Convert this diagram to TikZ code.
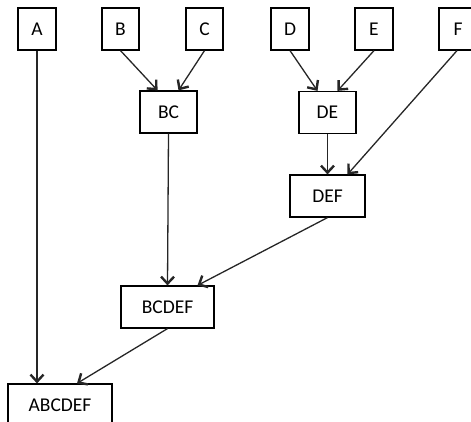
\documentclass[tikz,border=0pt]{standalone}
\usepackage{fontspec}
\setmainfont{Carlito}
\usetikzlibrary{arrows.meta}
\begin{document}
\begin{tikzpicture}[x=1pt,y=-1pt,
  box/.style={draw=black,line width=1.2pt,fill=white,rectangle,inner sep=0pt,
    minimum height=42pt,font=\fontsize{19.5}{22}\selectfont},
  arr/.style={draw=black!85,line width=1.3pt,
    -{Straight Barb[length=7pt,width=13pt,line width=2.4pt]}}]
\useasboundingbox (0,0) rectangle (471,422);
\clip (0,0) rectangle (471,422);
\node[box,minimum width=38pt] (A) at (37,29) {A};
\node[box,minimum width=37pt] (B) at (120.5,29) {B};
\node[box,minimum width=37pt] (C) at (204.5,29) {C};
\node[box,minimum width=38pt] (D) at (290,29) {D};
\node[box,minimum width=38pt] (E) at (374,29) {E};
\node[box,minimum width=38pt] (F) at (458,29) {F};
\node[box,minimum width=57pt] (BC) at (168.5,112) {BC};
\node[box,minimum width=57pt] (DE) at (327.5,112.5) {DE};
\node[box,minimum width=75pt] (DEF) at (327.5,196) {DEF};
\node[box,minimum width=93pt] (BCDEF) at (167.5,307) {BCDEF};
\node[box,minimum width=104pt] (ABCDEF) at (60,405) {ABCDEF};
\draw[arr] (A.south) -- ([xshift=-23pt]ABCDEF.north);
\draw[arr] (B.south) -- ([xshift=-11pt]BC.north);
\draw[arr] (C.south) -- ([xshift=10pt]BC.north);
\draw[arr] (D.south) -- ([xshift=-10pt]DE.north);
\draw[arr] (E.south) -- ([xshift=10pt]DE.north);
\draw[arr] ([xshift=-1pt]F.south) -- ([xshift=20pt]DEF.north);
\draw[arr] (DE.south) -- (DEF.north);
\draw[arr] (BC.south) -- (BCDEF.north);
\draw[arr] (DEF.south) -- ([xshift=30pt]BCDEF.north);
\draw[arr] (BCDEF.south) -- ([xshift=17pt]ABCDEF.north);
\end{tikzpicture}
\end{document}
